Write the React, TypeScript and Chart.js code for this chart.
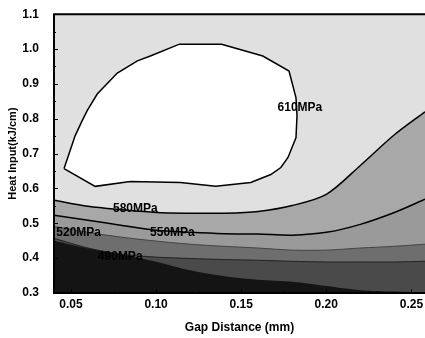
import React, { useEffect, useRef } from "react";
import { Chart, registerables } from "chart.js";
Chart.register(...registerables);

// Gap distance (mm) grid for the open contour lines
const gapX = [0.04, 0.06, 0.08, 0.1, 0.12, 0.14, 0.16, 0.18, 0.2, 0.22, 0.24, 0.258];
// Heat input (kJ/cm) of each contour along gapX
const heat580 = [0.566, 0.549, 0.539, 0.531, 0.529, 0.529, 0.534, 0.551, 0.583, 0.666, 0.754, 0.82];
const heat550 = [0.523, 0.509, 0.494, 0.48, 0.474, 0.47, 0.469, 0.466, 0.474, 0.497, 0.531, 0.569];
const heat520 = [0.491, 0.474, 0.46, 0.449, 0.44, 0.434, 0.429, 0.423, 0.423, 0.429, 0.434, 0.44];
const heat490 = [0.457, 0.429, 0.411, 0.403, 0.399, 0.396, 0.394, 0.391, 0.389, 0.389, 0.389, 0.391];
const heatDark = [0.45, 0.428, 0.41, 0.39, 0.365, 0.348, 0.338, 0.332, 0.32, 0.308, 0.304, 0.301];

// closed 610MPa contour
const loop610X = [0.0459, 0.0642, 0.0848, 0.1143, 0.135, 0.1556, 0.1674, 0.1733, 0.1775, 0.1822, 0.1828, 0.1822, 0.1781, 0.1627, 0.1385, 0.1137, 0.0966, 0.089, 0.0772, 0.0654, 0.0595, 0.0565, 0.0524, 0.0459];
const loop610Y = [0.657, 0.606, 0.62, 0.617, 0.606, 0.617, 0.64, 0.66, 0.689, 0.746, 0.809, 0.86, 0.937, 0.98, 1.014, 1.014, 0.98, 0.966, 0.931, 0.871, 0.823, 0.794, 0.751, 0.657];

const xTicks = [0.05, 0.1, 0.15, 0.2, 0.25];
const yTicks = [0.3, 0.4, 0.5, 0.6, 0.7, 0.8, 0.9, 1.0, 1.1];

const contourLabels = ["610MPa", "580MPa", "550MPa", "520MPa", "490MPa"];
const labelX = [0.1845, 0.0878, 0.1096, 0.0545, 0.0789];
const labelY = [0.831, 0.543, 0.474, 0.474, 0.403];

const FONT = "'Liberation Sans', Arial, sans-serif";

function pts(xs: number[], ys: number[]) {
  return xs.map((x, i) => ({ x, y: ys[i] }));
}

export default function App() {
  const ref = useRef<HTMLCanvasElement | null>(null);
  useEffect(() => {
    if (!ref.current) return;
    const decor = {
      id: "decor",
      beforeDatasetsDraw(chart: any) {
        const { ctx, chartArea: a } = chart;
        ctx.save();
        ctx.fillStyle = "#e0e0e0";
        ctx.fillRect(a.left, a.top, a.right - a.left, a.bottom - a.top);
        ctx.restore();
      },
      afterDatasetsDraw(chart: any) {
        const { ctx } = chart;
        const xs = chart.scales.x;
        const ys = chart.scales.y;
        ctx.save();
        ctx.font = `bold 12px ${FONT}`;
        ctx.fillStyle = "#000";
        ctx.textAlign = "center";
        ctx.textBaseline = "middle";
        contourLabels.forEach((t, i) => {
          ctx.fillText(t, xs.getPixelForValue(labelX[i]), ys.getPixelForValue(labelY[i]));
        });
        ctx.restore();
      },
      afterDraw(chart: any) {
        const { ctx, chartArea: a } = chart;
        const xs = chart.scales.x;
        const ys = chart.scales.y;
        ctx.save();
        ctx.strokeStyle = "#000";
        ctx.lineWidth = 2;
        ctx.beginPath();
        ctx.moveTo(a.right, a.top);
        ctx.lineTo(a.left, a.top);
        ctx.lineTo(a.left, a.bottom);
        ctx.lineTo(a.right, a.bottom);
        ctx.stroke();
        ctx.lineWidth = 1;
        ctx.beginPath();
        for (let v = 0.3; v <= 1.1001; v += 0.05) {
          const y = Math.round(ys.getPixelForValue(v)) + 0.5;
          const r = (v * 10) % 1;
          const len = r < 0.01 || r > 0.99 ? 4 : 2;
          ctx.moveTo(a.left, y);
          ctx.lineTo(a.left + len, y);
        }
        for (let v = 0.05; v <= 0.2501; v += 0.025) {
          const x = Math.round(xs.getPixelForValue(v)) + 0.5;
          const r = (v / 0.05) % 1;
          const len = r < 0.01 || r > 0.99 ? 4 : 2;
          ctx.moveTo(x, a.bottom);
          ctx.lineTo(x, a.bottom - len);
        }
        ctx.stroke();
        ctx.restore();
      },
    };

    const chart = new Chart(ref.current, {
      type: "line",
      data: {
        datasets: [
          { data: pts(loop610X, loop610Y), borderColor: "#000", borderWidth: 1.5, backgroundColor: "#ffffff", fill: "shape", pointRadius: 0, order: 0, tension: 0 },
          { data: pts(gapX, heatDark), borderColor: "rgba(0,0,0,0)", borderWidth: 0, backgroundColor: "#141414", fill: "start", pointRadius: 0, order: 1, tension: 0.3 },
          { data: pts(gapX, heat490), borderColor: "#222", borderWidth: 1, backgroundColor: "#4a4a4a", fill: "start", pointRadius: 0, order: 2, tension: 0.3 },
          { data: pts(gapX, heat520), borderColor: "#444", borderWidth: 1, backgroundColor: "#6e6e6e", fill: "start", pointRadius: 0, order: 3, tension: 0.3 },
          { data: pts(gapX, heat550), borderColor: "#000", borderWidth: 1.5, backgroundColor: "#9a9a9a", fill: "start", pointRadius: 0, order: 4, tension: 0.3 },
          { data: pts(gapX, heat580), borderColor: "#000", borderWidth: 1.5, backgroundColor: "#a8a8a8", fill: "start", pointRadius: 0, order: 5, tension: 0.3 },
        ],
      },
      options: {
        responsive: false,
        animation: false,
        layout: { padding: { top: 13, right: 0, left: 0, bottom: 0 } },
        plugins: { legend: { display: false }, tooltip: { enabled: false } },
        scales: {
          x: {
            type: "linear",
            min: 0.04,
            max: 0.258,
            afterBuildTicks: (s: any) => { s.ticks = xTicks.map((v) => ({ value: v })); },
            afterFit: (s: any) => { s.height = 45; },
            grid: { display: false },
            border: { display: false },
            ticks: { color: "#000", font: { family: FONT, size: 12, weight: "bold" }, padding: -4, maxRotation: 0, callback: (v: any) => Number(v).toFixed(2) },
            title: { display: true, text: "Gap Distance (mm)", color: "#000", font: { family: FONT, size: 12, weight: "bold" }, padding: { top: 0, bottom: 3 } },
          },
          y: {
            type: "linear",
            min: 0.3,
            max: 1.1,
            afterBuildTicks: (s: any) => { s.ticks = yTicks.map((v) => ({ value: v })); },
            afterFit: (s: any) => { s.width = 54; },
            grid: { display: false },
            border: { display: false },
            ticks: { color: "#000", font: { family: FONT, size: 12, weight: "bold" }, padding: 7, callback: (v: any) => Number(v).toFixed(1) },
            title: { display: true, text: "Heat Input(kJ/cm)", color: "#000", font: { family: FONT, size: 11, weight: "bold" }, padding: { top: 6, bottom: 0 } },
          },
        },
      },
      plugins: [decor],
    } as any);
    return () => chart.destroy();
  }, []);
  return (
    <div style={{ position: "absolute", left: 0, top: 0, width: 425, height: 338, background: "#fff" }}>
      <canvas ref={ref} width={425} height={338} style={{ display: "block" }} />
    </div>
  );
}
